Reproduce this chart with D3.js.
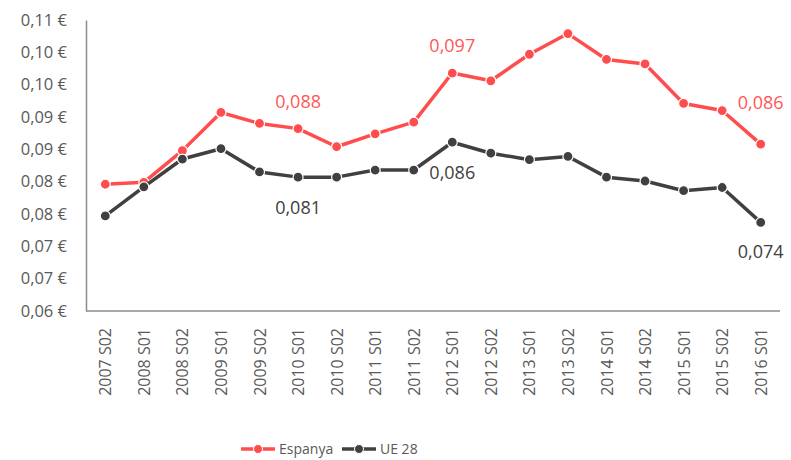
<!DOCTYPE html>
<html>
<head>
<meta charset="utf-8">
<script src="https://cdn.jsdelivr.net/npm/d3@7"></script>
<style>
  body { margin: 0; background: #fff; }
  text { font-family: "Open Sans", "Noto Sans", sans-serif; }
</style>
</head>
<body>
<div id="canvas"></div>
<script>
// Data
var periods = ["2007 S02", "2008 S01", "2008 S02", "2009 S01", "2009 S02", "2010 S01",
  "2010 S02", "2011 S01", "2011 S02", "2012 S01", "2012 S02", "2013 S01", "2013 S02",
  "2014 S01", "2014 S02", "2015 S01", "2015 S02", "2016 S01"];
var espanya = [0.0796, 0.0799, 0.0848, 0.0907, 0.0890, 0.0882, 0.0854, 0.0874, 0.0892,
  0.0968, 0.0956, 0.0997, 0.1029, 0.0989, 0.0982, 0.0921, 0.0910, 0.0858];
var ue28 = [0.0747, 0.0792, 0.0835, 0.0851, 0.0815, 0.0807, 0.0807, 0.0818, 0.0818,
  0.0861, 0.0844, 0.0834, 0.0839, 0.0807, 0.0801, 0.0786, 0.0791, 0.0737];
var yTicks = [0.06, 0.065, 0.07, 0.075, 0.08, 0.085, 0.09, 0.095, 0.10, 0.105];
var seriesNames = ["Espanya", "UE 28"];
// labelled points: [series index, period index, text]
var pointLabels = [[0, 5, "0,088"], [0, 9, "0,097"], [0, 17, "0,086"],
  [1, 5, "0,081"], [1, 9, "0,086"], [1, 17, "0,074"]];

var w = 791, h = 460;
var margin = {top: 20, right: 11, bottom: 149, left: 86};

var svg = d3.select("#canvas")
    .append("svg")
    .attr("width", w)
    .attr("height", h);

var x_scale = d3.scalePoint()
    .domain(periods)
    .range([margin.left, w - margin.right])
    .padding(0.5);

var y_scale = d3.scaleLinear()
    .domain([0.06, 0.105])
    .range([h - margin.bottom, margin.top]);

var colors = ["#ff4d4d", "#404040"];
var labelColors = ["#ff5757", "#404040"];
// round half up, like the spreadsheet does
var fmt = d => (Math.round(d * 100 + 1e-9) / 100).toFixed(2).replace(".", ",") + " €";

// y axis
var yAxis = svg.append("g")
    .attr("transform", `translate(${margin.left},0)`)
    .call(d3.axisLeft(y_scale).tickValues(yTicks).tickFormat(fmt).tickSize(0).tickPadding(19));
yAxis.select(".domain").attr("stroke", "#8c8c8c").attr("stroke-width", 1.5);
yAxis.selectAll("text").attr("fill", "#595959").style("font-size", "16.5px")
    .attr("font-family", "Open Sans, sans-serif");

// x axis
var xAxis = svg.append("g")
    .attr("transform", `translate(0,${h - margin.bottom})`)
    .call(d3.axisBottom(x_scale).tickSize(0).tickPadding(0));
xAxis.select(".domain").attr("stroke", "#8c8c8c").attr("stroke-width", 1.5)
    .attr("d", `M${margin.left},0H${w - margin.right}`);
xAxis.selectAll("text")
    .attr("fill", "#595959")
    .style("font-size", "16px")
    .attr("font-family", "Open Sans, sans-serif")
    .attr("transform", "rotate(-90)")
    .attr("text-anchor", "end")
    .attr("x", -17)
    .attr("y", 0)
    .attr("dy", "0.35em");

// lines
var allSeries = [espanya, ue28];
var line = d3.line()
    .x((d, i) => x_scale(periods[i]))
    .y(d => y_scale(d));

allSeries.forEach(function(vals, s) {
    svg.append("path")
        .datum(vals)
        .attr("fill", "none")
        .attr("stroke", colors[s])
        .attr("stroke-width", 3.5)
        .attr("stroke-linejoin", "round")
        .attr("d", line);
    svg.selectAll(".pt" + s)
        .data(vals)
        .join("circle")
        .attr("cx", (d, i) => x_scale(periods[i]))
        .attr("cy", d => y_scale(d))
        .attr("r", 5)
        .attr("fill", colors[s])
        .attr("stroke", "#fff")
        .attr("stroke-width", 1.2);
});

// data labels
var labelDy = {"0-5": -27, "0-9": -27, "0-17": -41, "1-5": 31, "1-9": 30, "1-17": 29};
pointLabels.forEach(function(p) {
    var vals = allSeries[p[0]];
    svg.append("text")
        .attr("x", x_scale(periods[p[1]]))
        .attr("y", y_scale(vals[p[1]]) + labelDy[p[0] + "-" + p[1]])
        .attr("dy", "0.35em")
        .attr("text-anchor", "middle")
        .attr("fill", labelColors[p[0]])
        .style("font-size", "18px")
        .text(p[2]);
});

// legend
var legendX = [241, 342];
seriesNames.forEach(function(name, s) {
    var g = svg.append("g").attr("transform", `translate(${legendX[s]},449)`);
    g.append("line").attr("x1", 0).attr("x2", 34).attr("y1", 0).attr("y2", 0)
        .attr("stroke", colors[s]).attr("stroke-width", 3.5);
    g.append("circle").attr("cx", 17).attr("cy", 0).attr("r", 4.5)
        .attr("fill", colors[s]).attr("stroke", "#fff").attr("stroke-width", 1);
    g.append("text").attr("x", 38).attr("y", 0).attr("dy", "0.35em")
        .attr("fill", "#595959").style("font-size", "14px")
        .text(name);
});
</script>
</body>
</html>
